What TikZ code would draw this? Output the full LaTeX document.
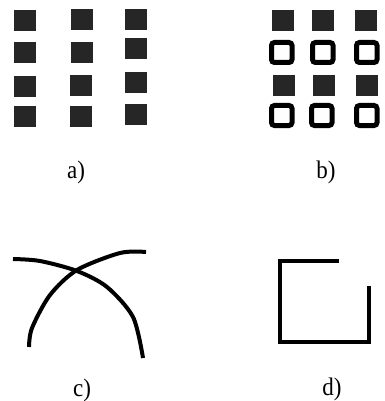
\documentclass[tikz,border=0pt]{standalone}
\usepackage{fontspec}
\setmainfont{Liberation Serif}
\begin{document}
\begin{tikzpicture}[x=1pt,y=-1pt,
  fsq/.style={fill=black!85},
  osq/.style={draw=black,line width=5pt,rounded corners=3pt},
  thick line/.style={line width=4pt},
  lab/.style={font=\fontsize{23}{25}\selectfont,yscale=1.1}]
\useasboundingbox (0,0) rectangle (384,401);
% panel a
\foreach \x/\y in {14/10,14/42,14/76,14/106,
                   71/9,71/42,70/75,70/106,
                   125/9,125/38,125/72,125/104}
  \fill[fsq] (\x,\y) rectangle ++(21.5,21);
\node[lab] (la) at (76,172) {a)};
% panel b
\foreach \x/\y in {272/10,312/10,355/10,273/75,313/75,356/75}
  \fill[fsq] (\x,\y) rectangle ++(21.5,21);
\foreach \x/\y in {269/40,310/40,354/40,269/103,309/103,354/103}
  \draw[osq] (\x+2.5,\y+2.5) rectangle ++(20.5,20);
\node[lab] (lb) at (326,172) {b)};
% panel c
\draw[thick line] plot[smooth,tension=0.5] coordinates {(13,259) (40,261) (77,271) (107,287) (133,317) (143,358)};
\draw[thick line] plot[smooth,tension=0.5] coordinates {(29,347) (32,328) (50,295) (77,270) (120,253) (146,252)};
\node[lab] (lc) at (82,390) {c)};
% panel d
\draw[line width=4.5pt] (339,261) -- (280,261) -- (280,342) -- (369,342) -- (369,286);
\node[lab] (ld) at (332,389) {d)};
\end{tikzpicture}
\end{document}
